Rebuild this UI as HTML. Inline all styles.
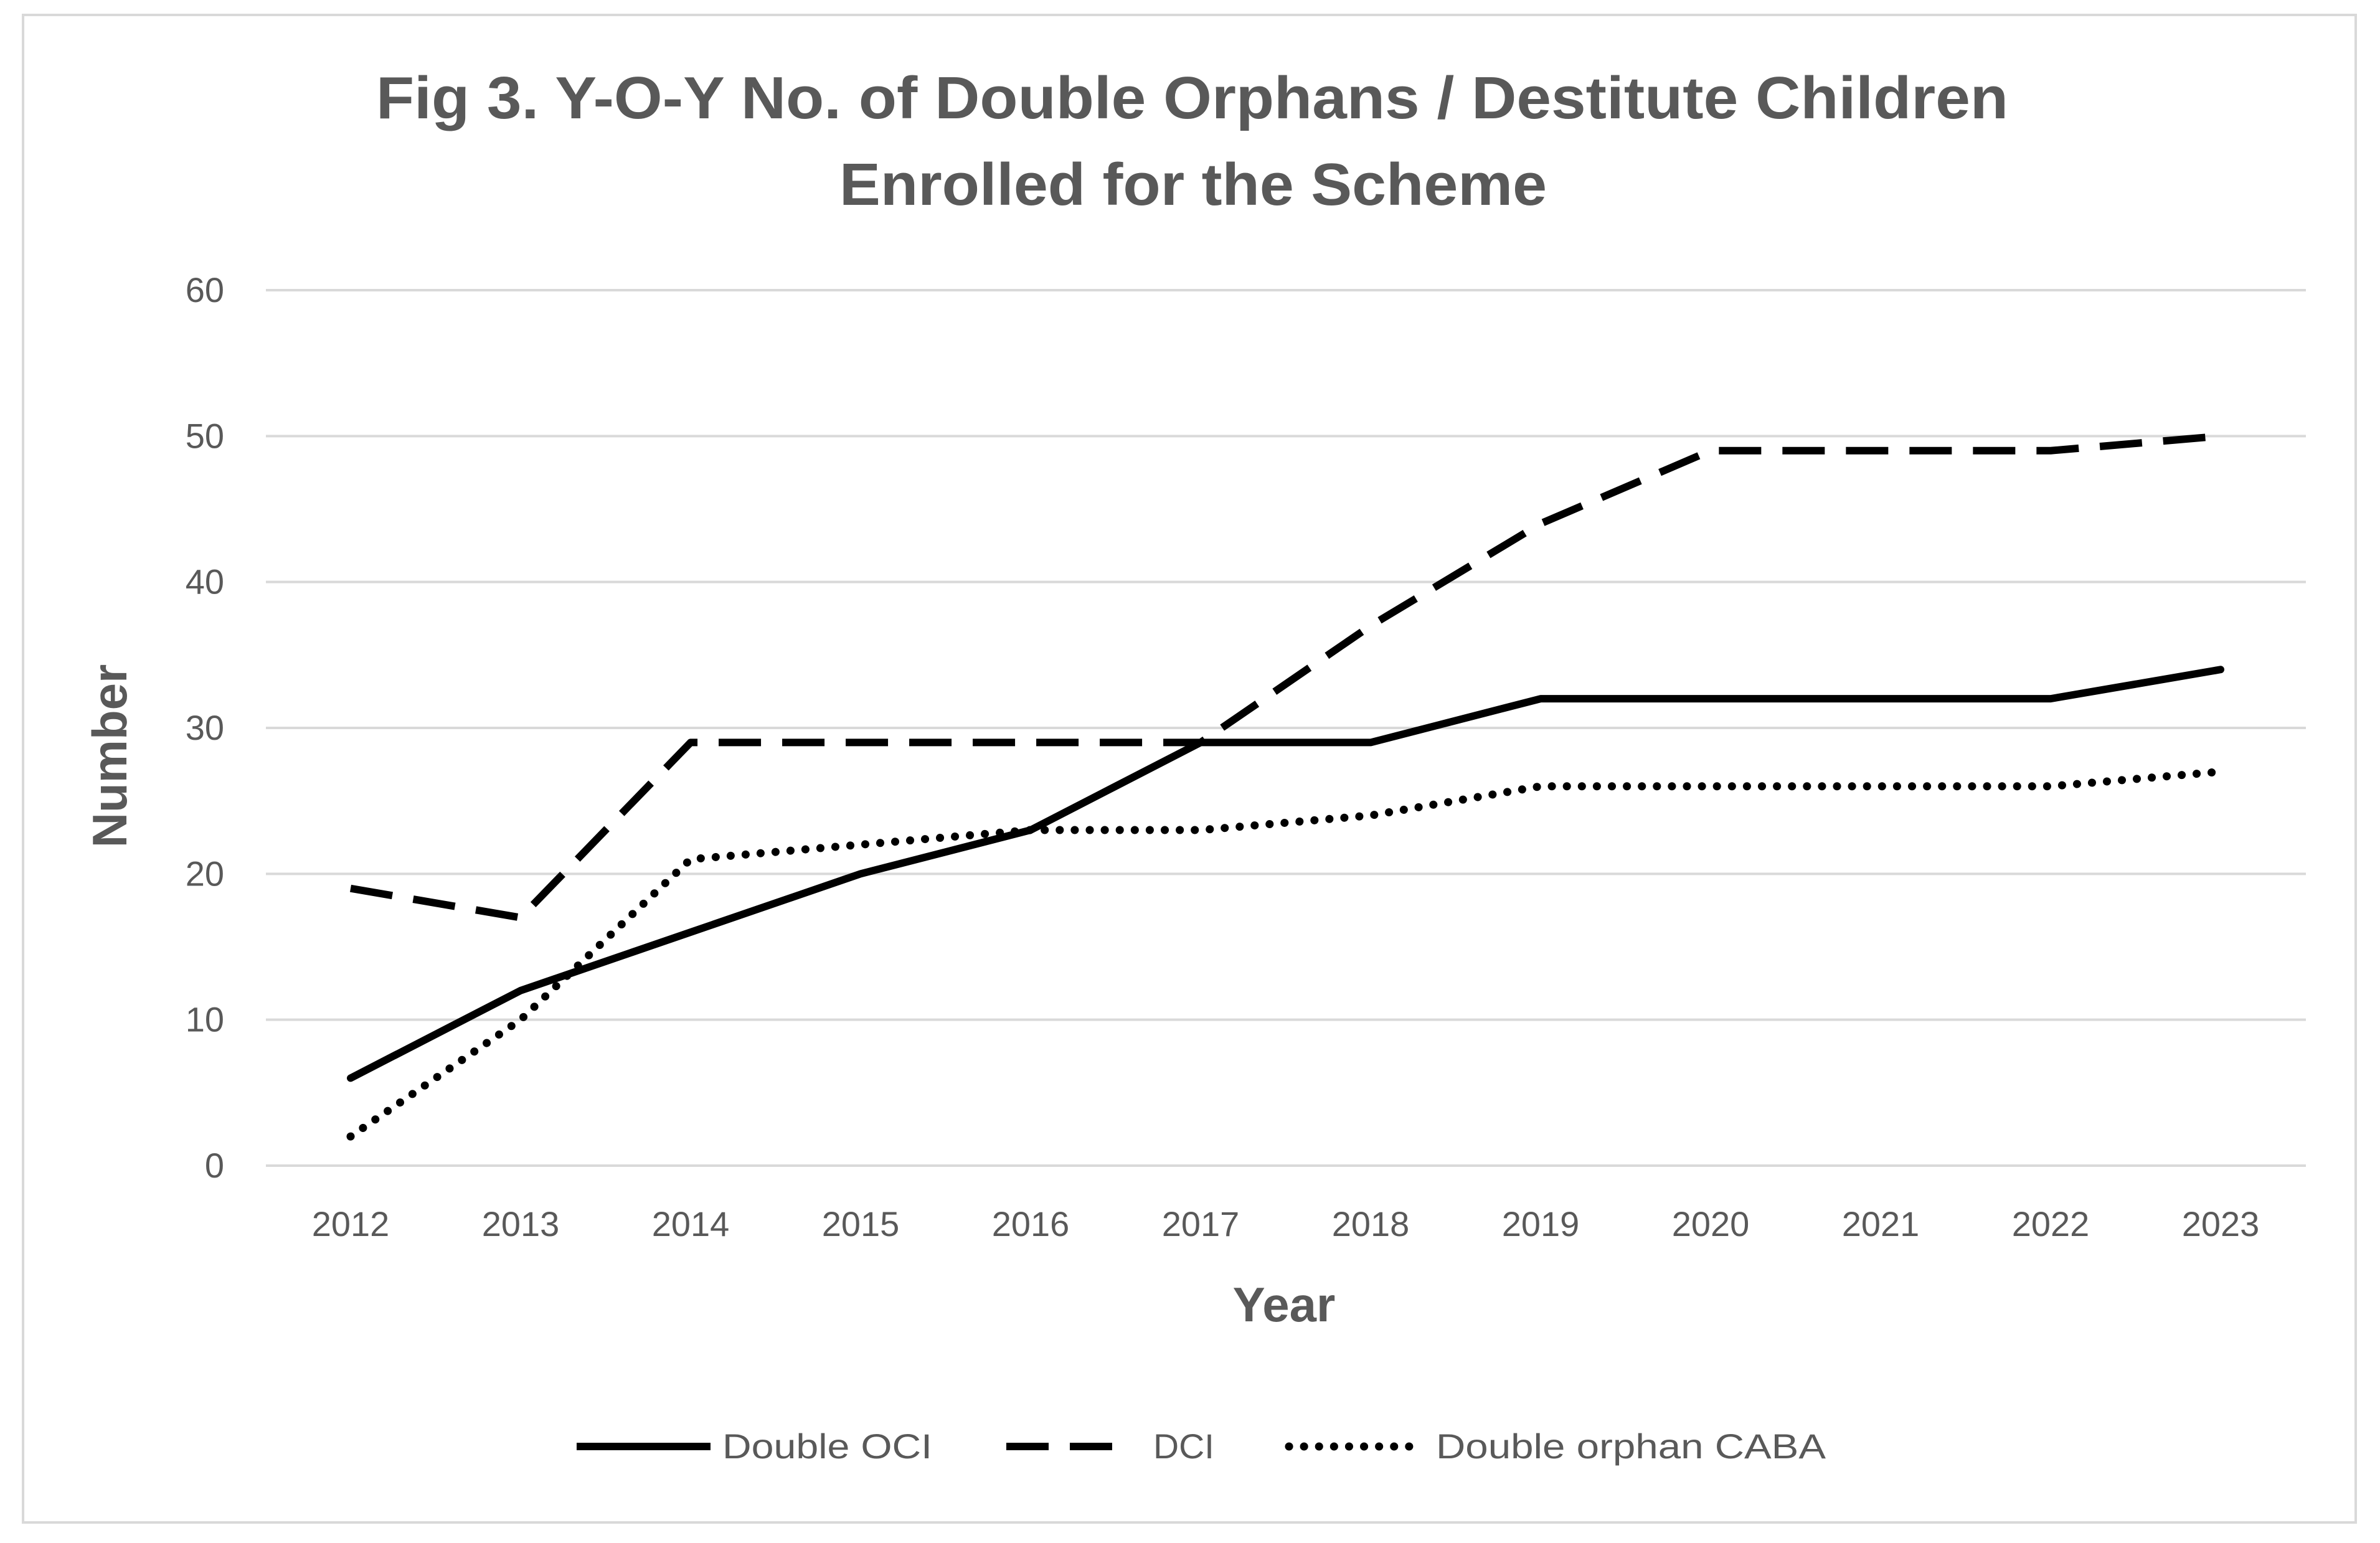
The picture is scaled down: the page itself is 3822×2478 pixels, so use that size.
<!DOCTYPE html>
<html><head><meta charset="utf-8"><style>
html,body{margin:0;padding:0;background:#fff}
svg{display:block}
text{font-family:"Liberation Sans",sans-serif}
</style></head><body>
<svg id="chart" width="3822" height="2478" viewBox="0 0 3822 2478" xmlns="http://www.w3.org/2000/svg">
<rect x="37" y="24" width="3746" height="2421" fill="#fff" stroke="#d9d9d9" stroke-width="4"/>
<text x="604" y="190" textLength="2621" lengthAdjust="spacingAndGlyphs" font-size="96" font-weight="bold" fill="#595959">Fig 3. Y-O-Y No. of Double Orphans / Destitute Children</text>
<text x="1348" y="329" textLength="1136" lengthAdjust="spacingAndGlyphs" font-size="96" font-weight="bold" fill="#595959">Enrolled for the Scheme</text>
<g id="grid"></g><g id="yticks"></g><g id="xticks"></g><g id="series"></g>
<text x="2062" y="2122" text-anchor="middle" font-size="78" font-weight="bold" fill="#595959">Year</text>
<text transform="translate(203,1214) rotate(-90)" text-anchor="middle" font-size="78" font-weight="bold" fill="#595959">Number</text>
<g>
<line x1="926" y1="2323" x2="1141" y2="2323" stroke="#000" stroke-width="12"/>
<text x="1160" y="2342" textLength="337" lengthAdjust="spacingAndGlyphs" font-size="56" fill="#595959">Double OCI</text>
<line x1="1616" y1="2323" x2="1816" y2="2323" stroke="#000" stroke-width="12" stroke-dasharray="68 34"/>
<text x="1852" y="2342" textLength="98" lengthAdjust="spacingAndGlyphs" font-size="56" fill="#595959">DCI</text>
<line x1="2070" y1="2323" x2="2267" y2="2323" stroke="#000" stroke-width="13" stroke-dasharray="0.1 24" stroke-linecap="round"/>
<text x="2306" y="2342" textLength="626" lengthAdjust="spacingAndGlyphs" font-size="56" fill="#595959">Double orphan CABA</text>
</g>
</svg>
<script>
const years = ['2012','2013','2014','2015','2016','2017','2018','2019','2020','2021','2022','2023'];
const doubleOCI = [6,12,16,20,23,29,29,32,32,32,32,34];
const dci = [19,17,29,29,29,29,37,44,49,49,49,50];
const caba = [2,10,21,22,23,23,24,26,26,26,26,27];
const yTicks = [0,10,20,30,40,50,60];

const NS='http://www.w3.org/2000/svg';
const X0=563, X1=3566, Y0=1872, Y60=466;
function xScale(i){return X0+(X1-X0)*i/(years.length-1);}
function yScale(v){return Y0-(Y0-Y60)*v/60;}
function mk(tag,attrs,parent){const e=document.createElementNS(NS,tag);for(const k in attrs)e.setAttribute(k,attrs[k]);parent.appendChild(e);return e;}
const grid=document.getElementById('grid'), yt=document.getElementById('yticks'), xt=document.getElementById('xticks'), ser=document.getElementById('series');
yTicks.forEach(v=>{
  const l=mk('line',{x1:427,x2:3703,y1:yScale(v),y2:yScale(v),stroke:'#d9d9d9','stroke-width':4},grid);
  
  
  const t=mk('text',{x:360,y:yScale(v)+19,'text-anchor':'end','font-size':56,fill:'#595959'},yt);
  t.textContent=v;
  
  
});
years.forEach((y,i)=>{
  const t=mk('text',{x:xScale(i),y:1985,'text-anchor':'middle','font-size':56,fill:'#595959'},xt);
  t.textContent=y;
  
  
});
function line(vals,name,extra){
  const pts=vals.map((v,i)=>xScale(i)+','+yScale(v)).join(' ');
  const p=mk('polyline',Object.assign({points:pts,fill:'none',stroke:'#000','stroke-linejoin':'round'},extra),ser);
  
  
}
line(caba,'series-double-orphan-caba',{'stroke-width':13,'stroke-dasharray':'0.1 24','stroke-linecap':'round'});
line(dci,'series-dci',{'stroke-width':12,'stroke-dasharray':'68 34'});
line(doubleOCI,'series-double-oci',{'stroke-width':12,'stroke-linecap':'round'});
</script>
</body></html>
